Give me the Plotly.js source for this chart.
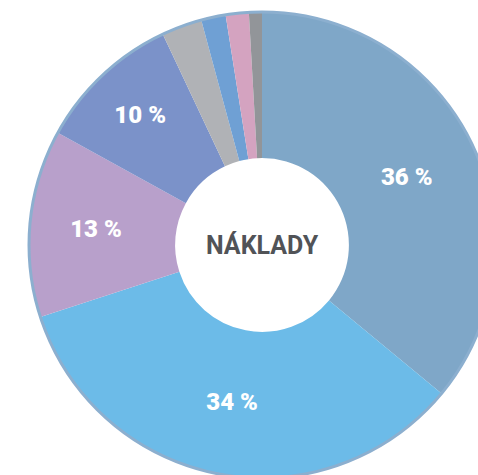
<!DOCTYPE html>
<html><head><meta charset="utf-8">
<script src="https://cdn.plot.ly/plotly-3.0.1.min.js"></script>
<style>html,body{margin:0;padding:0;overflow:hidden;background:#fff;width:478px;height:475px}#c{width:520px;height:500px}</style>
</head><body><div id="c"></div>
<script>
const categories = ['A','B','C','D','E','F','G','H'];
const values = [36, 34, 13, 10, 2.8, 1.7, 1.6, 0.9];
const labelsText = ['36 %','34 %','13 %','10 %','','','',''];
const colors = ['#7fa7c8','#6cbbe8','#b8a0cb','#7b92c9','#b0b2b6','#6fa0d4','#d4a3c0','#929599'];
const centerLabel = 'NÁKLADY';

const W = 520, H = 500;
const cx = 262, cy = 245, R = 233;
const dom = {x:[(cx-R)/W,(cx+R)/W], y:[(H-cy-R)/H,(H-cy+R)/H]};

Plotly.newPlot('c', [{
  type:'pie', labels:categories, values:values, text:labelsText,
  textinfo:'text', textposition:'inside', insidetextorientation:'horizontal',
  sort:false, direction:'clockwise', rotation:0, hole:0.373,
  marker:{colors:colors, line:{width:0}},
  textfont:{family:'Roboto, sans-serif', size:24, color:'#ffffff', weight:900},
  domain:dom, showlegend:false, hoverinfo:'none'
}], {
  width:W, height:H, margin:{l:0,r:0,t:0,b:0}, paper_bgcolor:'#fff',
  showlegend:false,
  shapes:[{type:'circle', xref:'paper', yref:'paper', x0:dom.x[0], x1:dom.x[1], y0:dom.y[0], y1:dom.y[1], line:{color:'#8cafcf', width:3}, layer:'above'}],
  annotations:[{text:'<b>'+centerLabel+'</b>', x:(cx)/W, y:(H-cy)/H, xref:'paper', yref:'paper', showarrow:false, font:{family:'Roboto, sans-serif', size:25, color:'#515357', weight:900}}]
}, {staticPlot:true});
</script></body></html>
